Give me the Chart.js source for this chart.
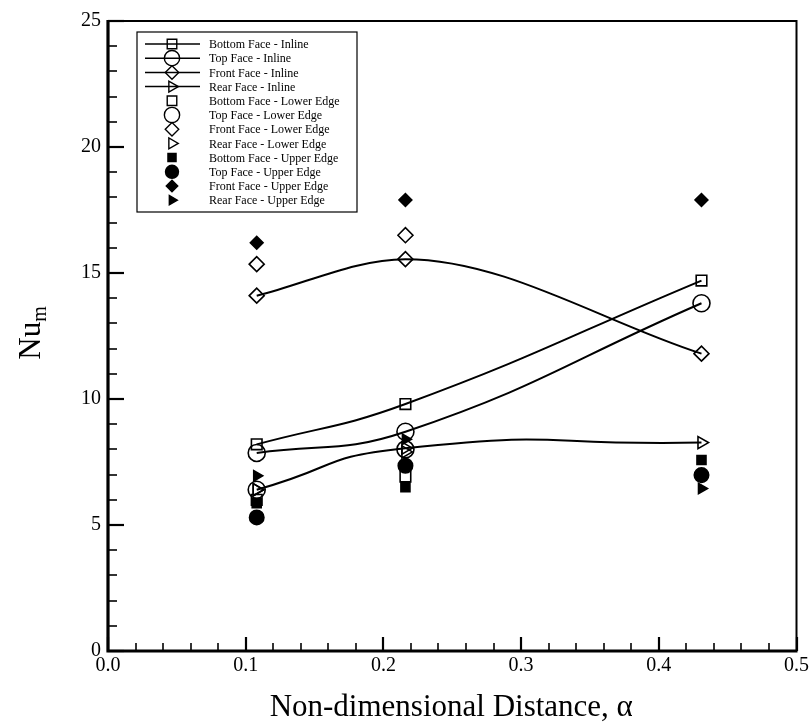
<!DOCTYPE html>
<html><head><meta charset="utf-8">
<script src="https://cdn.jsdelivr.net/npm/chart.js@4.4.0/dist/chart.umd.min.js"></script>
<style>html,body{margin:0;padding:0;background:#fff;}#wrap{width:812px;height:724px;}</style>
</head><body><div id="wrap"><canvas id="c" width="812" height="724"></canvas></div>
<script>
// ---- data ----
const alpha = [0.108, 0.216, 0.431];
const xTickValues = [0.0, 0.1, 0.2, 0.3, 0.4, 0.5];
const yTickValues = [0, 5, 10, 15, 20, 25];
const seriesNames = [
  'Bottom Face - Inline', 'Top Face - Inline', 'Front Face - Inline', 'Rear Face - Inline',
  'Bottom Face - Lower Edge', 'Top Face - Lower Edge', 'Front Face - Lower Edge', 'Rear Face - Lower Edge',
  'Bottom Face - Upper Edge', 'Top Face - Upper Edge', 'Front Face - Upper Edge', 'Rear Face - Upper Edge'
];
const bottomInline = [8.2, 9.8, 14.7];
const topInline    = [7.86, 8.7, 13.8];
const frontInline  = [14.1, 15.55, 11.8];
const rearInline   = [6.4, 8.05, 8.27];
const bottomLower  = [6.0, 6.92, null];
const topLower     = [6.4, 8.0, null];
const frontLower   = [15.35, 16.5, null];
const rearLower    = [6.4, 7.9, null];
const bottomUpper  = [5.87, 6.5, 7.58];
const topUpper     = [5.3, 7.35, 6.98];
const frontUpper   = [16.2, 17.9, 17.9];
const rearUpper    = [6.95, 8.4, 6.45];

const allValues = [bottomInline, topInline, frontInline, rearInline,
  bottomLower, topLower, frontLower, rearLower,
  bottomUpper, topUpper, frontUpper, rearUpper];

const shapes = ['rect', 'circle', 'rectRot', 'triangle'];
const radii = {rect: 7.5, circle: 8.5, rectRot: 7.5, triangle: 7};

function pts(vals) { return alpha.map((a, i) => ({x: a, y: vals[i]})).filter(p => p.y !== null); }

const datasets = allValues.map((vals, i) => {
  const group = Math.floor(i / 4);          // 0 inline, 1 lower, 2 upper
  const shape = shapes[i % 4];
  const filled = group === 2;
  return {
    label: seriesNames[i],
    data: pts(vals),
    showLine: group === 0,
    borderColor: '#000',
    borderWidth: 2,
    tension: (i === 3) ? 0.58 : 0.45,
    cubicInterpolationMode: (i === 2) ? 'monotone' : 'default',
    pointStyle: shape,
    pointRotation: shape === 'triangle' ? 90 : 0,
    pointRadius: radii[shape] * (filled ? 0.85 : 1),
    pointBorderWidth: 1.6,
    pointBorderColor: '#000',
    pointBackgroundColor: filled ? '#000' : 'rgba(0,0,0,0)',
    order: 12 - i
  };
});

const frame = {
  id: 'frame',
  beforeDraw(chart) {
    const ctx = chart.ctx;
    ctx.save();
    ctx.fillStyle = '#fff';
    ctx.fillRect(0, 0, chart.width, chart.height);
    ctx.restore();
  },
  afterDraw(chart) {
    const ctx = chart.ctx;
    const a = chart.chartArea;
    const xs = chart.scales.x, ys = chart.scales.y;
    ctx.save();
    ctx.strokeStyle = '#000';
    // ticks
    for (let i = 0; i <= 25; i++) {
      const px = Math.round(xs.getPixelForValue(i * 0.02));
      const len = (i % 5 === 0) ? 14 : 8;
      ctx.lineWidth = (i % 5 === 0) ? 2.2 : 1.6;
      ctx.beginPath(); ctx.moveTo(px, a.bottom); ctx.lineTo(px, a.bottom - len); ctx.stroke();
    }
    for (let i = 0; i <= 25; i++) {
      const py = Math.round(ys.getPixelForValue(i));
      const len = (i % 5 === 0) ? 16 : 9;
      ctx.lineWidth = (i % 5 === 0) ? 2.2 : 1.6;
      ctx.beginPath(); ctx.moveTo(a.left, py); ctx.lineTo(a.left + len, py); ctx.stroke();
    }
    // box
    ctx.lineWidth = 2;
    ctx.beginPath(); ctx.moveTo(a.left, a.top); ctx.lineTo(a.right, a.top); ctx.lineTo(a.right, a.bottom); ctx.stroke();
    ctx.lineWidth = 3.2;
    ctx.beginPath(); ctx.moveTo(a.left, a.top - 1); ctx.lineTo(a.left, a.bottom); ctx.lineTo(a.right + 1, a.bottom); ctx.stroke();

    // legend
    const lx = 137, ly = 32, lw = 220, lh = 180;
    ctx.lineWidth = 1.2;
    ctx.fillStyle = '#fff';
    ctx.fillRect(lx, ly, lw, lh);
    ctx.strokeRect(lx, ly, lw, lh);
    ctx.font = '12px "Liberation Serif"';
    ctx.textBaseline = 'middle';
    ctx.textAlign = 'left';
    chart.data.datasets.forEach((ds, i) => {
      const y = ly + 12 + i * 14.2;
      ctx.strokeStyle = '#000';
      if (ds.showLine) {
        ctx.lineWidth = 1.5;
        ctx.beginPath(); ctx.moveTo(lx + 8, y); ctx.lineTo(lx + 63, y); ctx.stroke();
      }
      ctx.fillStyle = ds.pointBackgroundColor;
      ctx.lineWidth = 1.4;
      Chart.helpers.drawPoint(ctx, {
        pointStyle: ds.pointStyle, radius: ds.pointRadius * 0.9,
        rotation: ds.pointRotation, borderWidth: 1.4
      }, lx + 35, y);
      ctx.fillStyle = '#000';
      ctx.fillText(ds.label, lx + 72, y + 1);
    });

    // axis titles
    ctx.fillStyle = '#000';
    ctx.font = '31px "Liberation Serif"';
    ctx.textAlign = 'center';
    ctx.textBaseline = 'alphabetic';
    ctx.fillText('Non-dimensional Distance, \u03b1', (a.left + a.right) / 2 - 1, 716);
    ctx.save();
    ctx.translate(40, 333);
    ctx.rotate(-Math.PI / 2);
    ctx.textAlign = 'left';
    ctx.font = '31px "Liberation Serif"';
    const w1 = ctx.measureText('Nu').width;
    ctx.font = '20px "Liberation Serif"';
    const w2 = ctx.measureText('m').width;
    const x0 = -(w1 + w2) / 2;
    ctx.font = '31px "Liberation Serif"';
    ctx.fillText('Nu', x0, 0);
    ctx.font = '20px "Liberation Serif"';
    ctx.fillText('m', x0 + w1, 6);
    ctx.restore();
    ctx.restore();
  }
};

new Chart(document.getElementById('c'), {
  type: 'scatter',
  data: {datasets},
  options: {
    responsive: false,
    animation: false,
    devicePixelRatio: 1,
    layout: {padding: {left: 0, top: 21, right: 15, bottom: 0}},
    plugins: {legend: {display: false}, tooltip: {enabled: false}},
    scales: {
      x: {
        type: 'linear', min: 0, max: 0.5,
        afterBuildTicks: s => { s.ticks = xTickValues.map(v => ({value: v})); },
        afterFit: s => { s.height = 73; },
        grid: {display: false, drawTicks: false},
        border: {display: false},
        ticks: {padding: 3, color: '#000', font: {family: 'Liberation Serif', size: 20},
                callback: v => Number(v).toFixed(1), maxRotation: 0, autoSkip: false}
      },
      y: {
        type: 'linear', min: 0, max: 25,
        afterBuildTicks: s => { s.ticks = yTickValues.map(v => ({value: v})); },
        afterFit: s => { s.width = 108; },
        grid: {display: false, drawTicks: false},
        border: {display: false},
        ticks: {padding: 7, color: '#000', font: {family: 'Liberation Serif', size: 20},
                callback: v => String(v), autoSkip: false}
      }
    }
  },
  plugins: [frame]
});
</script></body></html>
